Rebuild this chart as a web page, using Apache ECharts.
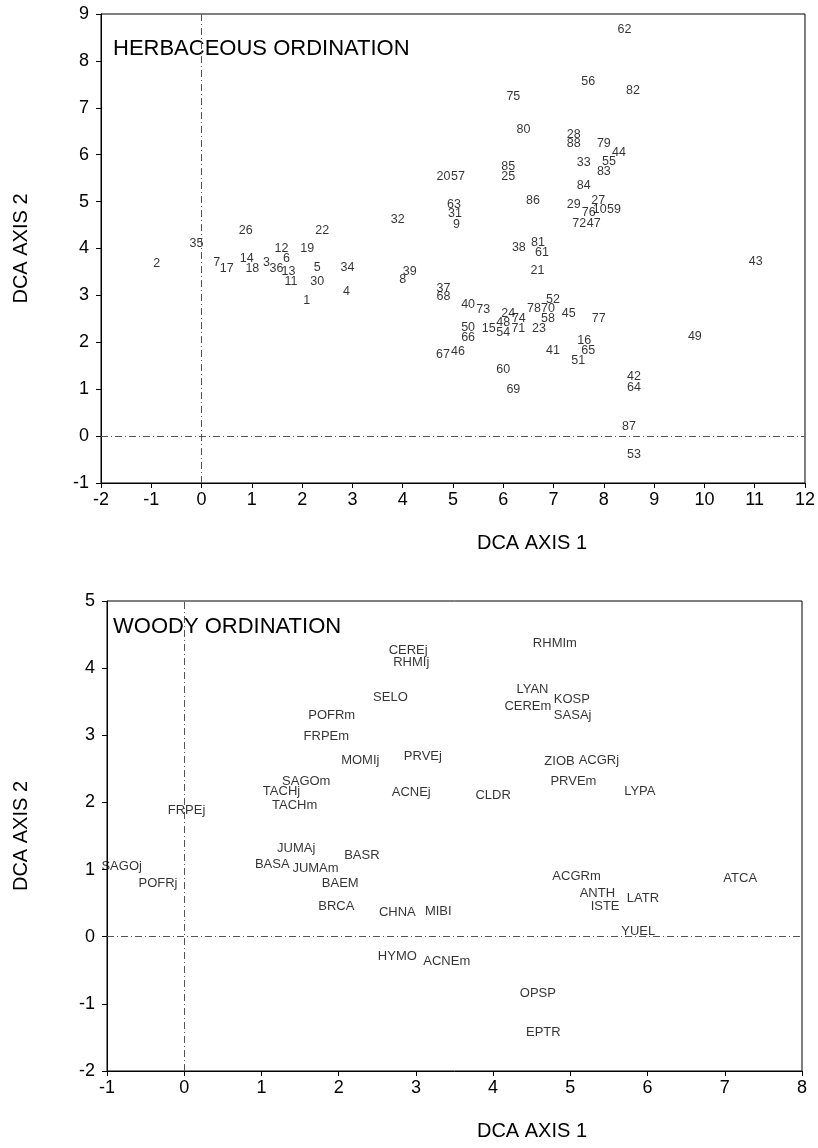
<!DOCTYPE html>
<html>
<head>
<meta charset="utf-8">
<script src="https://cdn.jsdelivr.net/npm/echarts@6/dist/echarts.min.js"></script>
<style>
html,body{margin:0;padding:0;background:#fff;}
#c{width:818px;height:1148px;}
</style>
</head>
<body>
<div id="c"></div>
<script>
// ---- Herbaceous ordination (sample numbers 1..88) ----
const herbLabels = ['1','2','3','4','5','6','7','8','9','10','11','12','13','14','15','16','17','18','19','20','21','22','23','24','25','26','27','28','29','30','31','32','33','34','35','36','37','38','39','40','41','42','43','44','45','46','47','48','49','50','51','52','53','54','55','56','57','58','59','60','61','62','63','64','65','66','67','68','69','70','71','72','73','74','75','76','77','78','79','80','81','82','83','84','85','86','87','88'];
const herbX = [2.09,-0.89,1.29,2.88,2.30,1.69,0.30,4.00,5.07,7.92,1.78,1.59,1.73,0.90,5.71,7.61,0.50,1.01,2.10,4.81,6.68,2.40,6.71,6.10,6.10,0.88,7.89,7.40,7.40,2.30,5.04,3.90,7.60,2.90,-0.10,1.49,4.81,6.31,4.14,5.30,6.99,8.60,11.02,8.30,7.30,5.10,7.80,6.00,9.81,5.30,7.49,6.99,8.60,6.00,8.10,7.69,5.10,6.89,8.20,6.00,6.77,8.41,5.02,8.60,7.69,5.30,4.80,4.81,6.20,6.89,6.30,7.51,5.60,6.31,6.20,7.70,7.90,6.61,8.00,6.40,6.69,8.58,8.00,7.60,6.10,6.59,8.50,7.40];
const herbY = [2.89,3.67,3.70,3.09,3.60,3.79,3.70,3.34,4.52,4.82,3.29,4.00,3.51,3.79,2.30,2.03,3.58,3.58,4.00,5.53,3.52,4.39,2.30,2.62,5.53,4.39,5.03,6.44,4.93,3.29,4.74,4.61,5.83,3.60,4.11,3.58,3.14,4.03,3.51,2.81,1.82,1.27,3.73,6.04,2.62,1.80,4.54,2.42,2.12,2.31,1.62,2.92,-0.40,2.21,5.85,7.56,5.53,2.51,4.82,1.41,3.92,8.66,4.93,1.03,1.82,2.10,1.73,2.97,1.00,2.71,2.30,4.54,2.70,2.51,7.25,4.76,2.51,2.71,6.24,6.54,4.13,7.36,5.64,5.34,5.74,5.02,0.20,6.24];

// ---- Woody ordination (species codes) ----
const woodyLabels = ['CEREj','RHMIj','RHMIm','SELO','LYAN','KOSP','CEREm','SASAj','POFRm','FRPEm','MOMIj','PRVEj','ZIOB','ACGRj','SAGOm','TACHj','TACHm','PRVEm','LYPA','ACNEj','CLDR','FRPEj','JUMAj','BASR','SAGOj','BASA','JUMAm','ACGRm','ATCA','POFRj','BAEM','ANTH','LATR','ISTE','BRCA','MIBI','CHNA','YUEL','HYMO','ACNEm','OPSP','EPTR'];
const woodyX = [2.90,2.94,4.80,2.67,4.51,5.02,4.45,5.03,1.91,1.84,2.28,3.09,4.86,5.37,1.58,1.26,1.43,5.04,5.90,2.94,4.00,0.03,1.45,2.30,-0.81,1.14,1.70,5.08,7.20,-0.34,2.02,5.35,5.94,5.45,1.97,3.29,2.76,5.88,2.76,3.40,4.58,4.65];
const woodyY = [4.26,4.08,4.37,3.56,3.69,3.53,3.43,3.30,3.30,2.99,2.63,2.69,2.61,2.62,2.32,2.17,1.95,2.31,2.17,2.15,2.11,1.88,1.31,1.21,1.05,1.07,1.01,0.90,0.87,0.79,0.79,0.65,0.57,0.45,0.45,0.38,0.36,0.08,-0.29,-0.37,-0.85,-1.42];

// ---- axis settings ----
const herbXRange = [-2, 12];
const herbYRange = [-1, 9];
const woodyXRange = [-1, 8];
const woodyYRange = [-2, 5];

const FONT = '"Liberation Sans", Arial, Helvetica, sans-serif';

function pts(labels, xs, ys) {
  return labels.map((n, i) => ({ name: n, value: [xs[i], ys[i]] }));
}

function axis(gi, range, isY, gap) {
  return {
    type: 'value', gridIndex: gi, min: range[0], max: range[1], interval: 1,
    splitLine: { show: false },
    axisLine: { show: true, onZero: false, lineStyle: { color: '#000', width: 1 } },
    axisTick: { show: true, inside: false, length: 5, lineStyle: { color: '#000' } },
    axisLabel: { color: '#000', fontSize: 18, fontFamily: FONT, margin: isY ? 12 : 8 },
    name: isY ? 'DCA AXIS 2' : '',
    nameLocation: 'middle', nameGap: gap, nameRotate: isY ? 90 : 0,
    nameTextStyle: { color: '#000', fontSize: 20, fontFamily: FONT }
  };
}

const refLine = {
  silent: true, symbol: ['none', 'none'],
  label: { show: false },
  lineStyle: { color: '#555', width: 1, type: [7, 3, 1, 3] },
  data: [{ xAxis: 0 }, { yAxis: 0 }]
};

function scatter(gi, data, fs) {
  return {
    type: 'scatter', xAxisIndex: gi, yAxisIndex: gi,
    symbol: 'circle', symbolSize: 1,
    itemStyle: { color: 'rgba(0,0,0,0)' },
    label: { show: true, position: 'inside', formatter: p => p.name,
             color: '#000', fontSize: fs, fontFamily: FONT },
    emphasis: { disabled: true },
    markLine: refLine,
    data: data
  };
}

const chart = echarts.init(document.getElementById('c'), null, { renderer: 'canvas' });
chart.setOption({
  backgroundColor: '#fff',
  animation: false,
  grid: [
    { left: 101, top: 14, width: 704, height: 469, show: true, borderColor: '#000', borderWidth: 1, containLabel: false },
    { left: 107, top: 601, width: 695, height: 470, show: true, borderColor: '#000', borderWidth: 1, containLabel: false }
  ],
  xAxis: [axis(0, herbXRange, false, 40), axis(1, woodyXRange, false, 40)],
  yAxis: [axis(0, herbYRange, true, 70), axis(1, woodyYRange, true, 76)],
  series: [
    scatter(0, pts(herbLabels, herbX, herbY), 12.5),
    scatter(1, pts(woodyLabels, woodyX, woodyY), 13)
  ],
  graphic: [
    { type: 'text', x: 113, y: 49, style: { text: 'HERBACEOUS ORDINATION', fill: '#000', font: '22px ' + FONT, textVerticalAlign: 'middle', verticalAlign: 'middle' } },
    { type: 'text', x: 113, y: 627, style: { text: 'WOODY ORDINATION', fill: '#000', font: '22px ' + FONT, textVerticalAlign: 'middle', verticalAlign: 'middle' } },
    { type: 'text', x: 532, y: 543, style: { text: 'DCA AXIS 1', fill: '#000', font: '20px ' + FONT, textAlign: 'center', align: 'center', textVerticalAlign: 'middle', verticalAlign: 'middle' } },
    { type: 'text', x: 532, y: 1131, style: { text: 'DCA AXIS 1', fill: '#000', font: '20px ' + FONT, textAlign: 'center', align: 'center', textVerticalAlign: 'middle', verticalAlign: 'middle' } }
  ]
});
</script>
</body>
</html>
